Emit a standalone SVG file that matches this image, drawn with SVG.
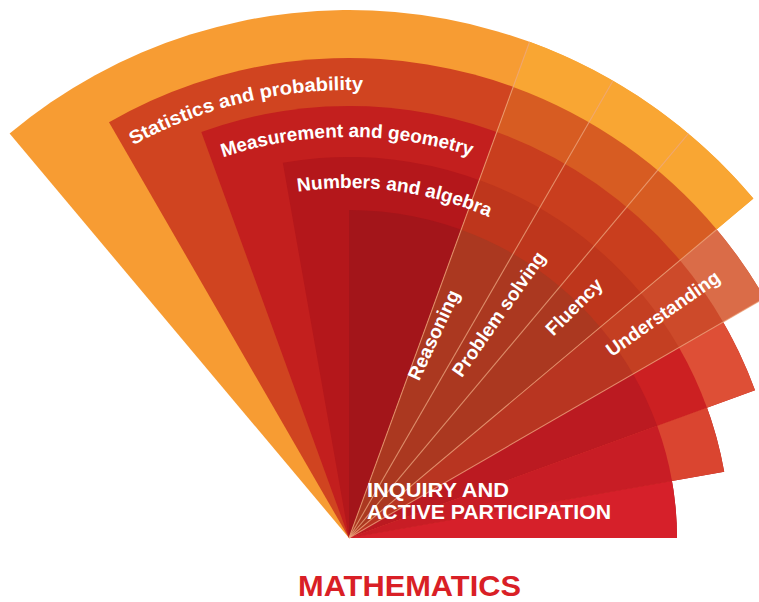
<svg xmlns="http://www.w3.org/2000/svg" width="759" height="602" viewBox="0 0 759 602">
<defs>
<style>
.lbl{font-family:"Liberation Sans",Arial,sans-serif;font-weight:bold;fill:#ffffff;font-size:19px}
.big{font-family:"Liberation Sans",Arial,sans-serif;font-weight:bold;fill:#ffffff;font-size:21px}
.title{font-family:"Liberation Sans",Arial,sans-serif;font-weight:bold;fill:#D91F26;font-size:30px}
.sep{stroke:#EDA882;stroke-width:1.1;stroke-opacity:0.75;fill:none}
</style>
<path id="arcStats" d="M133.2,145.4 A448,448 0 0 1 388.1,91.7"/>
<path id="arcMeas" d="M223.1,157.3 A401,401 0 0 1 518.5,174.6"/>
<path id="arcNum" d="M297.9,191.7 A350,350 0 0 1 524,234.9"/>
</defs>
<rect width="759" height="602" fill="#ffffff"/>

<g id="strands">
<path id="outer" d="M349,538 L9.6,133.6 A528,528 0 0 1 753.4,198.6 Z" fill="#F79C33"/>
<path id="statistics" d="M349,538 L109,122.3 A480,480 0 0 1 764.7,298 Z" fill="#D04420"/>
<path id="measurement" d="M349,538 L201.3,132 A432,432 0 0 1 755,390.3 Z" fill="#C31F1E"/>
<path id="numbers" d="M349,538 L282.8,162.8 A381,381 0 0 1 724.2,471.8 Z" fill="#B4171B"/>
<path id="inner" d="M349,538 L349,210 A328,328 0 0 1 677,538 Z" fill="#A3151A"/>
</g>

<g id="proficiency">
<path d="M349,538 L529.6,41.8 A528,528 0 0 1 753.4,198.6 Z" fill="#F9A633"/>
<path d="M349,538 L513.2,86.9 A480,480 0 0 1 716.7,229.5 Z" fill="#D75C22"/>
<path d="M349,538 L496.7,132 A432,432 0 0 1 679.9,260.3 Z" fill="#C93E1E"/>
<path d="M349,538 L479.3,180 A381,381 0 0 1 640.9,293.1 Z" fill="#BE361C"/>
<path d="M349,538 L461.2,229.8 A328,328 0 0 1 600.3,327.2 Z" fill="#AB3820"/>

<path d="M349,538 L716.7,229.5 A480,480 0 0 1 764.7,298 Z" fill="#DA6C48"/>
<path d="M349,538 L679.9,260.3 A432,432 0 0 1 723.1,322 Z" fill="#CD4A2A"/>
<path d="M349,538 L640.9,293.1 A381,381 0 0 1 679,347.5 Z" fill="#C43F22"/>
<path d="M349,538 L600.3,327.2 A328,328 0 0 1 633.1,374 Z" fill="#B83521"/>
</g>

<g id="inquiry">
<path d="M349,538 L723.1,322 A432,432 0 0 1 755,390.3 Z" fill="#DE4F36"/>
<path d="M349,538 L679,347.5 A381,381 0 0 1 707,407.7 Z" fill="#CC2022"/>
<path d="M349,538 L633.1,374 A328,328 0 0 1 657.2,425.8 Z" fill="#BB1A21"/>
<path d="M349,538 L707,407.7 A381,381 0 0 1 724.2,471.8 Z" fill="#DA4530"/>
<path d="M349,538 L657.2,425.8 A328,328 0 0 1 672,481 Z" fill="#C81D25"/>
<path d="M349,538 L672,481 A328,328 0 0 1 677,538 Z" fill="#D6202A"/>
</g>

<g id="connectors">
<path class="sep" d="M349,538 L529.6,41.8"/>
<path class="sep" d="M349,538 L613,80.7"/>
<path class="sep" d="M349,538 L688.4,133.6"/>
<path class="sep" d="M349,538 L716.7,229.5"/>
<path class="sep" d="M349,538 L764.7,298"/>
</g>

<g id="labels">
<text class="lbl"><textPath href="#arcStats" textLength="239" lengthAdjust="spacingAndGlyphs">Statistics and probability</textPath></text>
<text class="lbl"><textPath href="#arcMeas" textLength="252" lengthAdjust="spacingAndGlyphs">Measurement and geometry</textPath></text>
<text class="lbl"><textPath href="#arcNum" textLength="195" lengthAdjust="spacingAndGlyphs">Numbers and algebra</textPath></text>
<text class="lbl" transform="translate(419,381.7) rotate(-65)">Reasoning</text>
<text class="lbl" transform="translate(461.7,378.3) rotate(-55)">Problem solving</text>
<text class="lbl" transform="translate(553.3,336.7) rotate(-45)">Fluency</text>
<text class="lbl" transform="translate(611.7,357.3) rotate(-35)">Understanding</text>
<text class="big" x="367" y="497" textLength="142" lengthAdjust="spacingAndGlyphs">INQUIRY AND</text>
<text class="big" x="367" y="519" textLength="244" lengthAdjust="spacingAndGlyphs">ACTIVE PARTICIPATION</text>
<text class="title" x="298" y="596" textLength="223" lengthAdjust="spacingAndGlyphs">MATHEMATICS</text>
</g>
</svg>
